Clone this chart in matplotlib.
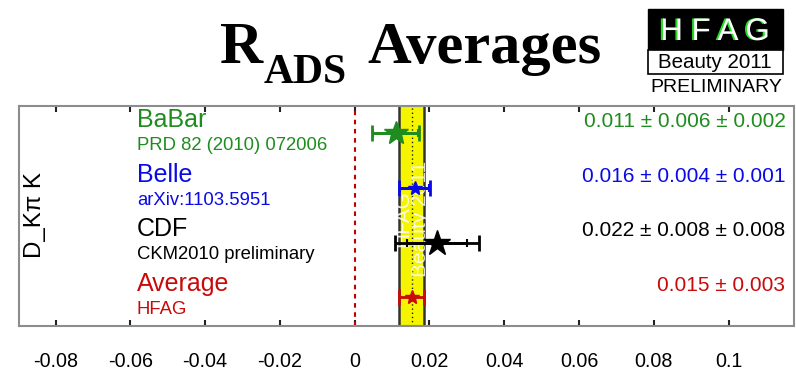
import matplotlib
matplotlib.use("Agg")
import matplotlib.pyplot as plt
import matplotlib.patheffects as pe

# ---------------- data ----------------
experiments = ["BaBar", "Belle", "CDF", "Average"]
references = ["PRD 82 (2010) 072006", "arXiv:1103.5951", "CKM2010 preliminary", "HFAG"]
values = [0.011, 0.016, 0.022, 0.0152]
stat_err = [0.006, 0.004, 0.008, 0.0034]
syst_err = [0.002, 0.001, 0.008, 0.0]
value_labels = ["0.011 \u00b1 0.006 \u00b1 0.002",
                "0.016 \u00b1 0.004 \u00b1 0.001",
                "0.022 \u00b1 0.008 \u00b1 0.008",
                "0.015 \u00b1 0.003"]
row_pos = [4, 3, 2, 1]
colors = ["#1e8c1e", "#0a0ae6", "#000000", "#c80a0a"]
marker_sizes = [18, 10, 19, 10]
xticks = [-0.08, -0.06, -0.04, -0.02, 0, 0.02, 0.04, 0.06, 0.08, 0.1]
xtick_labels = ["-0.08", "-0.06", "-0.04", "-0.02", "0", "0.02", "0.04", "0.06", "0.08", "0.1"]
avg_value = values[3]
avg_err = stat_err[3]
ylabel = "D_K\u03c0 K"

sans = ["Liberation Sans", "DejaVu Sans"]
serif = ["Liberation Serif", "DejaVu Serif"]
plt.rcParams["font.family"] = sans

W, H = 796, 373
fig = plt.figure(figsize=(W / 100, H / 100), dpi=100)
ax = fig.add_axes([19 / W, 1 - 325.7 / H, (794 - 19) / W, (325.7 - 105.7) / H])
ax.set_xlim(-0.0898, 0.1175)
ax.set_ylim(0.48, 4.5)

# yellow average band
ax.axvspan(avg_value - avg_err, avg_value + avg_err, color="#f5f500", zorder=1, lw=0)
for xb in (avg_value - avg_err, avg_value + avg_err):
    ax.axvline(xb, color="#333333", lw=1.8, zorder=2)
ax.axvline(avg_value, color="#222222", lw=1.0, ls=(0, (1, 2)), zorder=2)
# zero line
ax.axvline(0, color="#c00000", lw=1.5, ls=(0, (2.2, 2.2)), zorder=2)

# watermark inside band
ax.text(avg_value, 2.43, "HFAG\nBeauty 2011", rotation=90, color="white", alpha=0.85,
        fontsize=15, ha="center", va="center", multialignment="center",
        linespacing=0.95, zorder=3)

for i in range(4):
    y = row_pos[i]
    c = colors[i]
    tot = (stat_err[i] ** 2 + syst_err[i] ** 2) ** 0.5
    ax.errorbar(values[i], y, xerr=tot, fmt="none", ecolor=c, elinewidth=2,
                capsize=5.5, capthick=2, zorder=4)
    if syst_err[i] > 0:
        ax.errorbar(values[i], y, xerr=stat_err[i], fmt="none", ecolor=c, elinewidth=2,
                    capsize=3.2, capthick=1.5, zorder=4)
    ax.plot(values[i], y, marker="*", ms=marker_sizes[i], color=c, mec=c, zorder=5)
    # names
    ax.text(-0.0583, y + 0.11, experiments[i], color=c, fontsize=18,
            ha="left", va="baseline")
    ax.text(-0.0583, y - 0.31, references[i], color=c, fontsize=13.3,
            ha="left", va="baseline")
    ax.text(0.1152, y + 0.11, value_labels[i], color=c, fontsize=15,
            ha="right", va="baseline")

ax.set_xticks(xticks)
ax.set_xticklabels(xtick_labels)
ax.set_yticks([])
ax.tick_params(axis="x", direction="in", top=True, bottom=True, length=4, width=1.5,
               color="#222222", labelsize=14.2, pad=19)
for s in ax.spines.values():
    s.set_color("#8c8c8c")
    s.set_linewidth(1.5)

fig.text(35 / W, 1 - 215 / H, ylabel, rotation=90, fontsize=17.3, ha="center", va="center")

# title
fig.text(220 / W, 1 - 63 / H, "R", family=serif, weight="bold", fontsize=43,
         ha="left", va="baseline")
fig.text(264 / W, 1 - 83 / H, "ADS", family=serif, weight="bold", fontsize=30,
         ha="left", va="baseline")
fig.text(367 / W, 1 - 63 / H, "Averages", family=serif, weight="bold", fontsize=43.5,
         ha="left", va="baseline")

# HFAG logo
fig.patches.append(plt.Rectangle((648 / W, 1 - 50 / H), 135 / W, 41 / H,
                                 transform=fig.transFigure, facecolor="black",
                                 edgecolor="black", lw=1))
fig.patches.append(plt.Rectangle((648 / W, 1 - 74 / H), 135 / W, 24 / H,
                                 transform=fig.transFigure, facecolor="white",
                                 edgecolor="black", lw=1.2))
fig.text(715 / W, 1 - 40 / H, "H F A G", color="white", fontsize=22.5,
         ha="center", va="baseline",
         path_effects=[pe.withSimplePatchShadow(offset=(-1.5, 0), shadow_rgbFace="#22dd22",
                                                alpha=1.0)])
fig.text(715 / W, 1 - 68 / H, "Beauty 2011", color="black", fontsize=14.8,
         ha="center", va="baseline")
fig.text(716 / W, 1 - 92 / H, "PRELIMINARY", color="black", fontsize=14,
         ha="center", va="baseline")

fig.savefig("out.png", dpi=100)
